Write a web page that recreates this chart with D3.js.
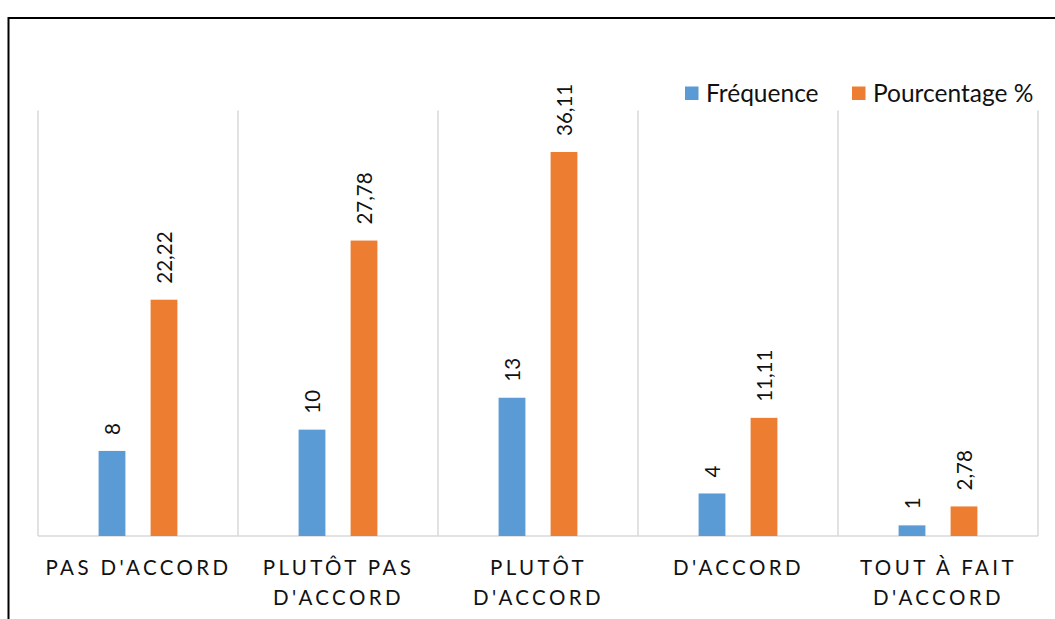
<!DOCTYPE html>
<html>
<head>
<meta charset="utf-8">
<script src="https://cdn.jsdelivr.net/npm/d3@7"></script>
<style>
  html, body { margin: 0; padding: 0; background: #fff; }
  svg { display: block; }
  text { font-family: Lato, "Open Sans", sans-serif; fill: #111; }
</style>
</head>
<body>
<svg id="chart" width="1055" height="619"></svg>
<script>
// Response categories (two-line labels)
const categories = [
  ["PAS D'ACCORD"],
  ["PLUTÔT PAS", "D'ACCORD"],
  ["PLUTÔT", "D'ACCORD"],
  ["D'ACCORD"],
  ["TOUT À FAIT", "D'ACCORD"]
];
const frequence = [8, 10, 13, 4, 1];
const pourcentage = [22.22, 27.78, 36.11, 11.11, 2.78];
const seriesNames = ["Fréquence", "Pourcentage %"];
const seriesColors = ["#5b9bd5", "#ed7d31"];
const pourcentageLabels = ["22,22", "27,78", "36,11", "11,11", "2,78"];

const svg = d3.select("#chart");
const W = 1055, H = 619;
const plot = { left: 38, right: 1038, top: 110.6, bottom: 536 };

// Outer frame: left and top edges only
svg.append("path")
  .attr("d", `M8.5,${H} V18 H${W}`)
  .attr("fill", "none")
  .attr("stroke", "#000")
  .attr("stroke-width", 2);

const x = d3.scaleBand()
  .domain(d3.range(categories.length))
  .range([plot.left, plot.right])
  .padding(0);

const y = d3.scaleLinear()
  .domain([0, 40])
  .range([plot.bottom, plot.top]);

// Vertical category separators
const sepX = d3.range(categories.length + 1).map(i => plot.left + i * x.bandwidth());
svg.append("g").selectAll("line").data(sepX).join("line")
  .attr("x1", d => d).attr("x2", d => d)
  .attr("y1", plot.top).attr("y2", plot.bottom)
  .attr("stroke", "#d9d9d9").attr("stroke-width", 1.5);

// Baseline
svg.append("line")
  .attr("x1", plot.left).attr("x2", plot.right)
  .attr("y1", plot.bottom).attr("y2", plot.bottom)
  .attr("stroke", "#d9d9d9").attr("stroke-width", 1.5);

// Bar placement inside each category
const barW = x.bandwidth() * 0.134;
const offsets = [-26, 26]; // centre offsets of the two bars

const series = [frequence, pourcentage];
const labels = [frequence.map(String), pourcentageLabels];

series.forEach((vals, s) => {
  const g = svg.append("g");
  g.selectAll("rect").data(vals).join("rect")
    .attr("x", (d, i) => x(i) + x.bandwidth() / 2 + offsets[s] - barW / 2)
    .attr("y", d => y(d))
    .attr("width", barW)
    .attr("height", d => y(0) - y(d))
    .attr("fill", seriesColors[s]);

  g.selectAll("text").data(vals).join("text")
    .attr("transform", (d, i) => {
      const cx = x(i) + x.bandwidth() / 2 + offsets[s];
      return `translate(${cx + 7.5},${y(d) - 16}) rotate(-90)`;
    })
    .attr("font-size", 20.5)
    .attr("text-anchor", "start")
    .text((d, i) => labels[s][i]);
});

// Category labels
const catG = svg.append("g");
categories.forEach((lines, i) => {
  const cx = x(i) + x.bandwidth() / 2 + 0.5;
  const t = catG.append("text")
    .attr("x", cx)
    .attr("y", 575)
    .attr("text-anchor", "middle")
    .attr("font-size", 20.5)
    .attr("letter-spacing", 3.4);
  lines.forEach((ln, k) => {
    t.append("tspan")
      .attr("x", cx)
      .attr("dy", k === 0 ? 0 : 30)
      .text(ln);
  });
});

// Legend
const legend = [
  { name: seriesNames[0], color: seriesColors[0], x: 685 },
  { name: seriesNames[1], color: seriesColors[1], x: 852 }
];
const lg = svg.append("g");
legend.forEach(l => {
  lg.append("rect")
    .attr("x", l.x).attr("y", 86.5)
    .attr("width", 13.5).attr("height", 13.5)
    .attr("fill", l.color);
  lg.append("text")
    .attr("x", l.x + 21).attr("y", 101.5)
    .attr("font-size", 24.5)
    .text(l.name);
});
</script>
</body>
</html>
